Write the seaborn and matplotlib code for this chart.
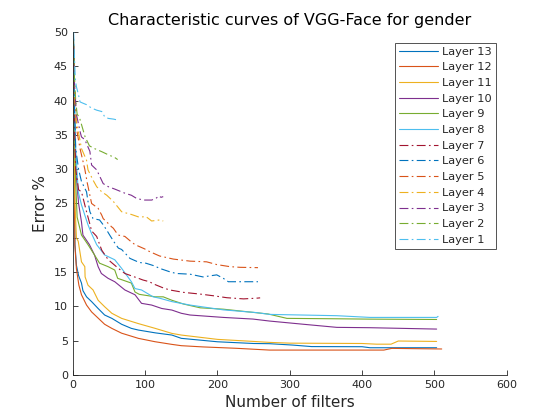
import numpy as np
import pandas as pd
import matplotlib
matplotlib.use("Agg")
import matplotlib.pyplot as plt
import seaborn as sns

# ---- data ----
layer13_x = [1, 2, 3, 5, 8, 12, 14, 19, 26, 35, 44, 54, 67.5, 81, 90.6, 114, 137, 150, 200, 250, 272, 304, 330, 400, 411, 503]
layer13_y = [48, 30, 19, 16, 14.5, 13.4, 12.3, 11.4, 10.7, 9.7, 8.75, 8.26, 7.4, 6.8, 6.56, 6.15, 5.83, 5.35, 4.85, 4.6, 4.57, 4.37, 4.15, 4.13, 3.98, 3.98]

layer12_x = [1, 2, 2.8, 5, 8.4, 12, 19, 26, 35, 44, 54, 67.5, 90.6, 113.6, 137, 150, 180, 226, 272, 300, 350, 430, 441, 470, 510]
layer12_y = [47, 32, 19, 15.5, 13.1, 11.7, 10.2, 9.2, 8.3, 7.4, 6.8, 6.1, 5.35, 4.86, 4.47, 4.28, 4.1, 3.9, 3.64, 3.64, 3.64, 3.64, 3.89, 3.85, 3.8]

layer11_x = [1, 2, 3, 5, 7.5, 12, 16.6, 17, 21, 28, 35, 44, 54, 67.5, 90.6, 114, 137, 150, 200, 250, 272, 300, 400, 420, 440, 450, 503]
layer11_y = [48, 35, 25, 20, 19.5, 16.5, 15.8, 14.3, 13.1, 12.4, 10.9, 9.96, 9.0, 8.26, 7.5, 6.8, 6.07, 5.83, 5.2, 4.9, 4.76, 4.65, 4.6, 4.5, 4.5, 4.96, 4.9]

layer10_x = [1, 2, 4, 8, 12, 14, 23, 30, 35, 39.5, 48.7, 58, 72, 86, 95, 109, 123, 137, 150, 162, 208, 249, 272, 319, 365, 411, 503]
layer10_y = [49, 40, 30, 25, 22.3, 20.4, 19, 17.5, 15.8, 14.8, 14.1, 13.6, 12.4, 11.7, 10.45, 10.2, 9.7, 9.47, 9.0, 8.75, 8.4, 8.16, 7.87, 7.4, 6.95, 6.9, 6.7]

layer9_x = [1, 2, 4, 6, 12, 21, 30, 37, 48.7, 58, 62, 81, 86, 92, 114, 125, 137, 153, 176, 208, 270, 296, 365, 411, 503]
layer9_y = [48, 38, 28, 23, 20.4, 19, 17.5, 16.3, 15.8, 15.3, 14.1, 13.4, 12.1, 11.76, 11.4, 11.4, 10.9, 10.35, 9.8, 9.6, 8.9, 8.26, 8.2, 8.15, 8.1]

layer8_x = [1, 2, 4, 7.5, 12, 16.6, 21, 26, 33, 44, 58, 67.5, 81, 86, 95, 111, 120, 137, 162, 208, 254, 272, 365, 411, 503, 505]
layer8_y = [50, 42, 33, 26.7, 24.8, 23.3, 21.9, 20.6, 19, 17.5, 16.8, 15.55, 13.6, 12.6, 12.4, 11.4, 11.2, 10.7, 10.2, 9.5, 9.1, 8.84, 8.65, 8.4, 8.4, 8.55]

layer7_x = [1, 2, 4, 8, 12, 19, 23.6, 26, 33, 40, 49, 63, 72, 90.6, 97, 106, 111, 125, 134, 153, 176, 194, 213, 236, 254, 259]
layer7_y = [48, 38, 30, 27, 26.7, 23.8, 22, 21, 20.2, 18.2, 16.8, 15.55, 14.8, 14.1, 13.85, 13.6, 13.3, 12.7, 12.4, 12.05, 11.8, 11.56, 11.27, 11.1, 11.2, 11.25]

layer6_x = [1, 2, 4, 8, 12, 19, 21, 23.6, 28, 37, 42, 47, 51, 57, 63, 67.5, 79, 92, 101, 113, 120, 134, 143, 162, 180, 199, 208, 215, 231, 256]
layer6_y = [47, 40, 33, 30, 28.2, 26.7, 25.3, 23.8, 22.8, 22.6, 21.9, 21.1, 20.4, 19.4, 18.5, 18.3, 17.0, 16.4, 16.3, 15.9, 15.55, 15.05, 14.8, 14.7, 14.3, 14.6, 14.1, 13.6, 13.6, 13.6]

layer5_x = [1, 2, 5, 10, 16.6, 20, 23.6, 26, 35, 40, 42, 47, 53.6, 56, 62.6, 72, 81, 86, 99, 106, 120, 139, 162, 185, 199, 217, 231, 256]
layer5_y = [48, 42, 36, 33, 30, 28, 26.2, 25, 24.3, 23.3, 22.8, 22.3, 21.6, 21.4, 20.4, 20.2, 19.4, 19, 18.4, 18.0, 17.35, 16.9, 16.6, 16.5, 16.1, 15.8, 15.7, 15.65]

layer4_x = [1, 2, 5, 12, 19, 21, 28, 33, 40, 47, 56, 67.5, 81, 92, 101, 106, 109, 120, 125]
layer4_y = [48, 42, 37, 33, 31.3, 29.9, 28.4, 27.45, 26.7, 26.2, 25.3, 23.8, 23.4, 23.0, 23.1, 22.7, 22.45, 22.6, 22.45]

layer3_x = [1, 2, 5, 10, 12, 16.6, 23.6, 26, 33, 42, 49, 58, 72, 81, 88, 97.5, 109, 115, 119, 122, 125]
layer3_y = [48, 43, 38, 35.5, 34.7, 34.3, 32.6, 30.6, 29.9, 27.9, 27.45, 27.1, 26.5, 26.2, 25.75, 25.5, 25.5, 25.75, 26.1, 25.9, 26.0]

layer2_x = [1, 2, 4, 6, 9, 17, 23, 30, 40, 49, 58, 62]
layer2_y = [49, 44, 40, 38, 37.6, 34.7, 33.4, 33, 32.55, 32.1, 31.7, 31.4]

layer1_x = [1, 2, 3.5, 5, 7.5, 10, 14.4, 19, 26, 33, 40, 44, 49, 56, 60.5, 63]
layer1_y = [50, 47, 43, 42, 41, 39.8, 39.6, 39.4, 38.9, 38.6, 38.4, 37.65, 37.4, 37.3, 37.2, 37.0]

layer_names = ["Layer 13", "Layer 12", "Layer 11", "Layer 10", "Layer 9", "Layer 8", "Layer 7",
               "Layer 6", "Layer 5", "Layer 4", "Layer 3", "Layer 2", "Layer 1"]
layer_xs = [layer13_x, layer12_x, layer11_x, layer10_x, layer9_x, layer8_x, layer7_x,
            layer6_x, layer5_x, layer4_x, layer3_x, layer2_x, layer1_x]
layer_ys = [layer13_y, layer12_y, layer11_y, layer10_y, layer9_y, layer8_y, layer7_y,
            layer6_y, layer5_y, layer4_y, layer3_y, layer2_y, layer1_y]

x_ticks = [0, 100, 200, 300, 400, 500, 600]
y_ticks = [0, 5, 10, 15, 20, 25, 30, 35, 40, 45, 50]

# ---- styling ----
matlab_cycle = ["#0072BD", "#D95319", "#EDB120", "#7E2F8E", "#77AC30", "#4DBEEE", "#A2142F"]
palette = {name: matlab_cycle[i % 7] for i, name in enumerate(layer_names)}
dashes = {name: ("" if i < 6 else (8, 3, 1.5, 3)) for i, name in enumerate(layer_names)}

rows = []
for name, xs, ys in zip(layer_names, layer_xs, layer_ys):
    for xv, yv in zip(xs, ys):
        rows.append((name, xv, yv))
df = pd.DataFrame(rows, columns=["layer", "filters", "error"])

sns.set_theme(style="white")
plt.rcParams['font.family'] = ['DejaVu Sans']

fig = plt.figure(figsize=(5.6, 4.2), dpi=100)
ax = fig.add_axes([0.13, 0.107, 0.775, 0.817])

sns.lineplot(data=df, x="filters", y="error", hue="layer", style="layer",
             hue_order=layer_names, style_order=layer_names,
             palette=palette, dashes=dashes, estimator=None, sort=False,
             linewidth=0.8, ax=ax)

ax.set_xlim(0, 600)
ax.set_ylim(0, 50)
ax.set_xticks(x_ticks)
ax.set_yticks(y_ticks)
txt = "#262626"
ax.tick_params(direction="in", length=3.5, width=0.6, colors=txt, labelsize=8,
               bottom=True, left=True, top=False, right=False)
ax.tick_params(axis="x", pad=3.5)
ax.tick_params(axis="y", pad=3.5)
for s in ["top", "right"]:
    ax.spines[s].set_visible(False)
for s in ["left", "bottom"]:
    ax.spines[s].set_color(txt)
    ax.spines[s].set_linewidth(0.6)

ax.set_xlabel("Number of filters", fontsize=11, color=txt, labelpad=4)
ax.set_ylabel("Error %", fontsize=11, color=txt, labelpad=4)
ax.set_title("Characteristic curves of VGG-Face for gender", fontsize=11.5, color="black", pad=5)

leg = ax.legend(loc="upper right", bbox_to_anchor=(0.974, 0.969), fontsize=8.2,
                frameon=True, fancybox=False, handlelength=3.4, handletextpad=0.35,
                labelspacing=0.5, borderpad=0.35, borderaxespad=0)
leg.get_frame().set_edgecolor("#262626")
leg.get_frame().set_linewidth(0.7)
for t in leg.get_texts():
    t.set_color(txt)

fig.savefig("out.png", dpi=100)
